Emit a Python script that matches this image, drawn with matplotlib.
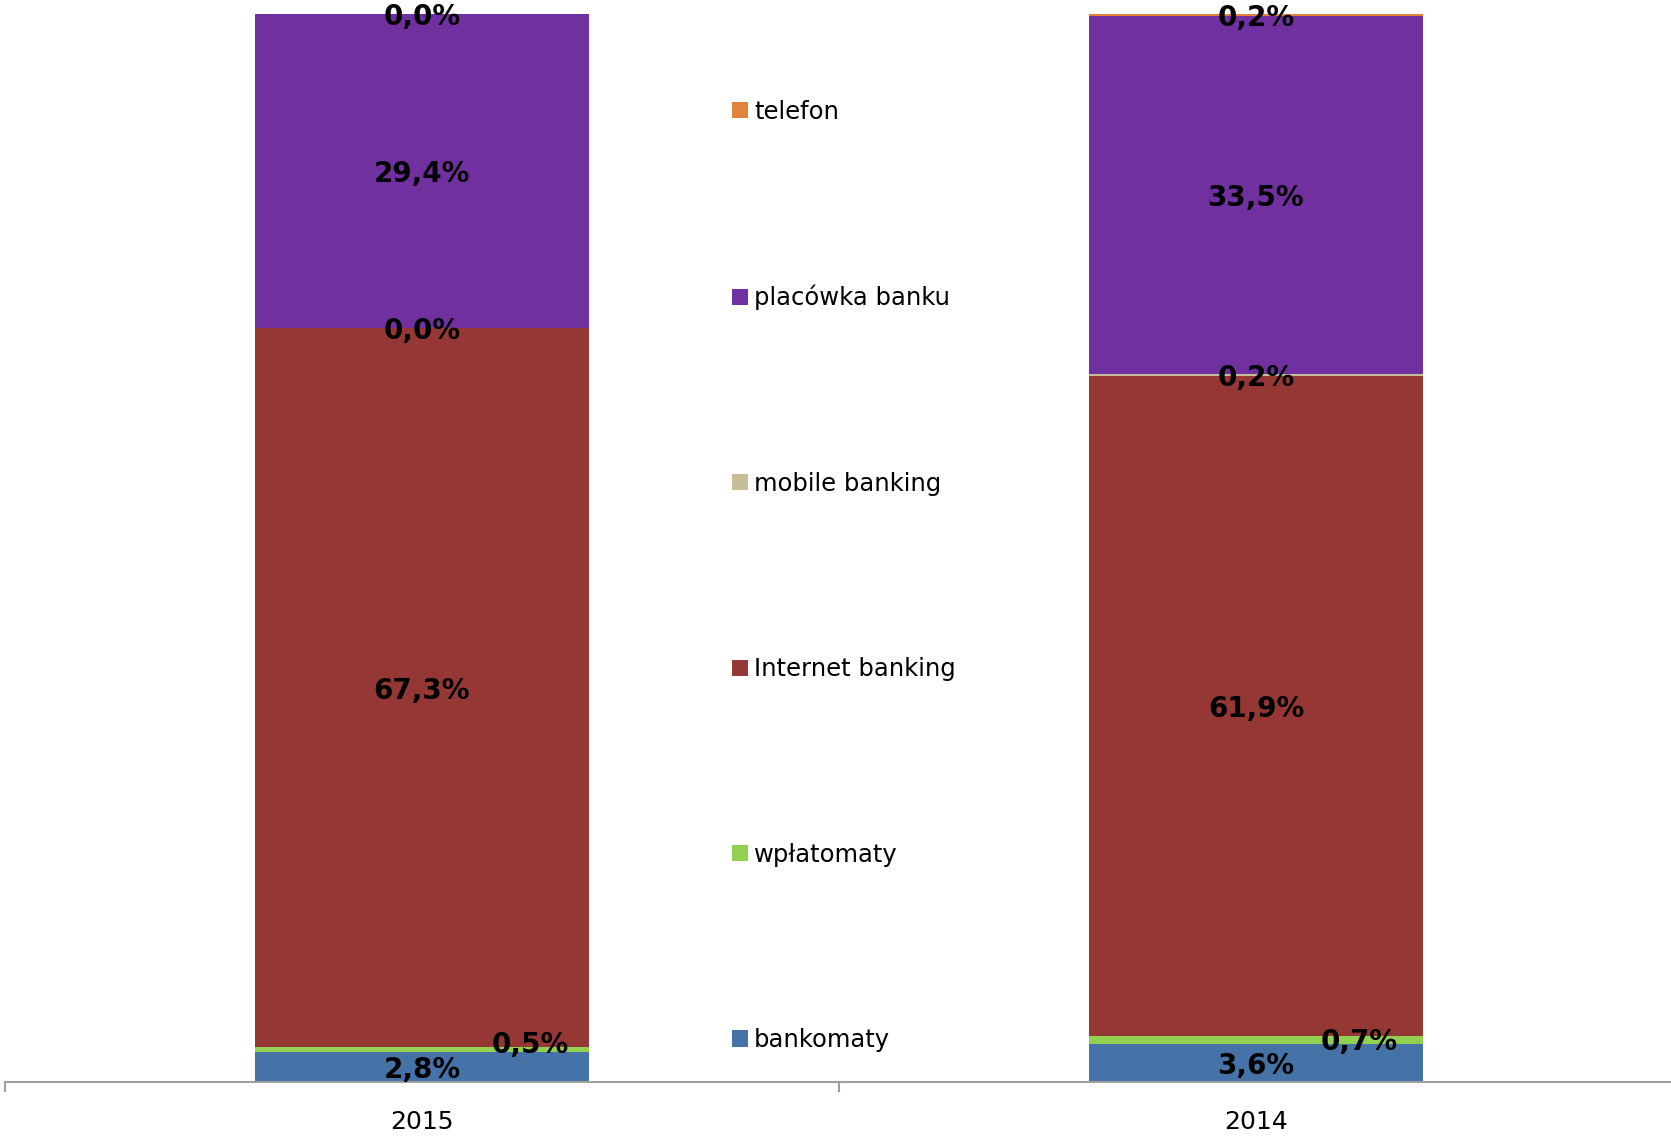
import matplotlib
matplotlib.use("Agg")
import matplotlib.pyplot as plt
from matplotlib.patches import Patch
import numpy as np

# data (percent shares)
years = ["2015", "2014"]
channels = ["bankomaty", "wpłatomaty", "Internet banking",
            "mobile banking", "placówka banku", "telefon"]
bankomaty = [2.8, 3.6]
wplatomaty = [0.5, 0.7]
internet = [67.3, 61.9]
mobile = [0.04, 0.2]
placowka = [29.4, 33.5]
telefon = [0.0, 0.2]

series = [bankomaty, wplatomaty, internet, mobile, placowka, telefon]
colors = ["#4572A7", "#92D050", "#953735", "#C4BD97", "#7030A0", "#E0843D"]

# label offsets in pixels for the thin green segments (Excel moved them)
label_dx = {1: [108, 103]}
label_dy = {1: [7, 1]}

plt.rcParams["font.family"] = ["DejaVu Sans"]

W, H = 1671, 1138
fig = plt.figure(figsize=(W / 100, H / 100), dpi=100)
ax = fig.add_axes([5 / W, 56 / H, 1668 / W, 1068 / H])

x = np.arange(len(years))
data = np.array(series, dtype=float)
totals = data.sum(axis=0)
norm = data / totals * 100  # 100% stacked

bottom = np.zeros(len(years))
handles = []
for i, (vals, col) in enumerate(zip(norm, colors)):
    ax.bar(x, vals, bottom=bottom, width=0.4, color=col, edgecolor="none")
    for j in range(len(years)):
        cy = bottom[j] + vals[j] / 2
        dx = label_dx.get(i, [0, 0])[j] * 0.72
        dy = (label_dy.get(i, [0, 0])[j] - 3) * 0.72
        txt = ("%.1f%%" % series[i][j]).replace(".", ",")
        ax.annotate(txt, (x[j], cy), xytext=(dx, dy), textcoords="offset points",
                    ha="center", va="center", fontsize=20, fontweight="bold",
                    color="black", zorder=5)
    bottom += vals
    handles.append(Patch(facecolor=col, edgecolor="none", label=channels[i]))

ax.set_xlim(-0.5, 1.5)
ax.set_ylim(0, 100)

for s in ["top", "right", "left"]:
    ax.spines[s].set_visible(False)
ax.spines["bottom"].set_color("#a0a0a0")
ax.spines["bottom"].set_linewidth(1.5)
ax.set_yticks([])
ax.set_xticks(x)
ax.set_xticklabels(years, fontsize=18)
ax.tick_params(axis="x", which="major", length=0, pad=20.5)
ax.set_xticks([-0.5, 0.5, 1.5], minor=True)
ax.tick_params(axis="x", which="minor", length=7, width=1.5, color="#a0a0a0")

leg = ax.legend(handles=handles[::-1], loc="center left",
                bbox_to_anchor=(0.436, 0.474), frameon=False, fontsize=17.5,
                labelspacing=6.64, handlelength=0.65, handleheight=0.65,
                handletextpad=0.25, borderpad=0, borderaxespad=0)

fig.savefig("out.png", dpi=100)
